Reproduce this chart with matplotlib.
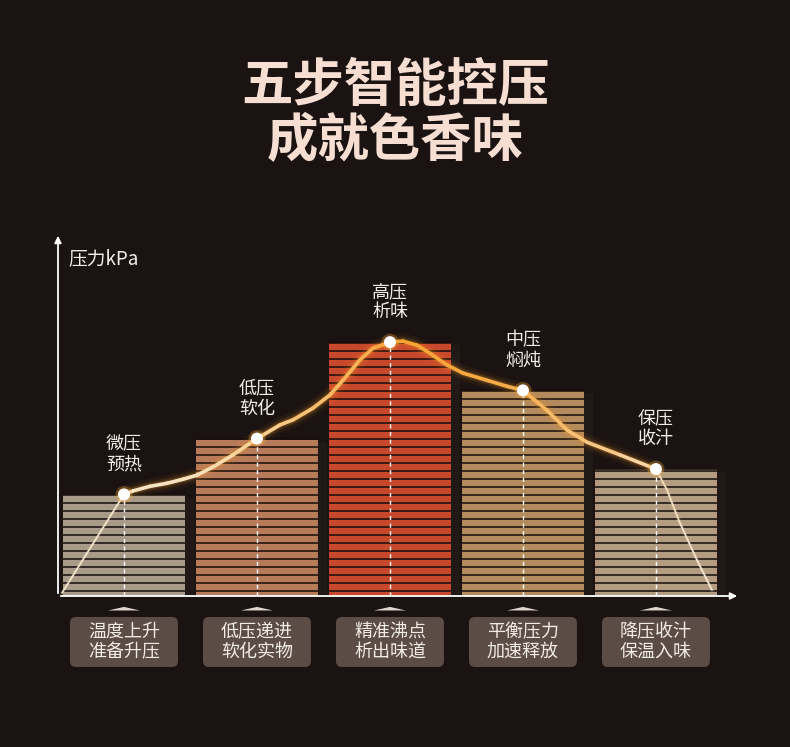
import numpy as np
import matplotlib
matplotlib.use("Agg")
import matplotlib.pyplot as plt
from matplotlib.collections import LineCollection
from matplotlib.colors import LinearSegmentedColormap
from matplotlib.patches import FancyBboxPatch, Rectangle, Polygon

plt.rcParams['font.family'] = ['Noto Sans CJK SC', 'DejaVu Sans']

''' [ DATA ] '''

steps = [0, 1, 2, 3, 4]
pressure = [20, 31, 50, 40.5, 25]
stageNames = ["微压\n预热", "低压\n软化", "高压\n析味", "中压\n焖炖", "保压\n收汁"]
stageNotes = ["温度上升\n准备升压", "低压递进\n软化实物", "精准沸点\n析出味道",
              "平衡压力\n加速释放", "降压收汁\n保温入味"]
barColors = ["#a89a88", "#b87b5a", "#c8482b", "#b38b5c", "#b39c82"]

# pressure curve (x in step units)
curveX = [-0.466, 0.0, 0.068, 0.195, 0.323, 0.444, 0.549, 0.669, 0.820, 1.0,
          1.173, 1.271, 1.421, 1.549, 1.647, 1.774, 1.872, 2.0, 2.098, 2.203,
          2.301, 2.429, 2.549, 2.729, 2.880, 3.0, 3.180, 3.331, 3.481, 3.729,
          4.0, 4.083, 4.180, 4.308, 4.421]
curveY = [0.6, 20, 20.7, 21.6, 22.2, 23.0, 23.8, 25.4, 27.8, 31,
          33.7, 34.7, 37.0, 39.6, 42.5, 46.5, 48.8, 50, 50.2, 49.4,
          47.8, 45.5, 43.9, 42.5, 41.3, 40.5, 36.6, 32.7, 30.3, 27.8,
          25, 20.9, 14.4, 7.1, 1.2]

title1 = "五步智能控压"
title2 = "成就色香味"
yLabel = "压力kPa"

''' [ STYLE ] '''

bg = "#1b1311"
xmin, xmax = -0.496, 4.632
ymax = 71.5
barWidth = 0.917
stripeStep = 1.575

fig = plt.figure(figsize=(7.9, 7.47), dpi=100)
fig.patch.set_facecolor(bg)
ax = fig.add_axes([58 / 790, 151 / 747, 682 / 790, 363 / 747])
ax.set_facecolor(bg)
ax.set_xlim(xmin, xmax)
ax.set_ylim(0, ymax)
ax.axis("off")

''' [ BARS ] '''

for i, h in enumerate(pressure):
    c = steps[i]
    # faint shadow on the right
    ax.add_patch(Rectangle((c - barWidth / 2 + 0.07, 0), barWidth, h - 0.6,
                           facecolor="#211916", edgecolor="none", zorder=1))
    ax.add_patch(Rectangle((c - barWidth / 2, 0), barWidth, h,
                           facecolor=barColors[i], edgecolor="none", zorder=2))
    ys = np.arange(1.04, h, stripeStep)
    ax.hlines(list(ys) + [h], c - barWidth / 2, c + barWidth / 2,
              colors="#140d0b", linewidth=1.1, zorder=3)
    ax.vlines(c, 0, h, colors="white", linewidth=1.0, linestyles=(0, (3, 2.5)), zorder=4)

''' [ CURVE ] '''

cx = np.array(curveX)
cy = np.array(curveY)
pts = np.column_stack([cx, cy])
segs = np.stack([pts[:-1], pts[1:]], axis=1)
mids = (pts[:-1, 0] + pts[1:, 0]) / 2

lineCmap = LinearSegmentedColormap.from_list("press", [
    (0.0, "#f7e8d2"), (0.2, "#f7e2c0"), (0.27, "#f9d7a0"), (0.45, "#f8b458"),
    (0.52, "#f6a232"), (0.68, "#f7ad48"), (0.85, "#f8cc8c"), (0.93, "#f7e0bc"),
    (1.0, "#f7ecdc")])
norm = plt.Normalize(-0.47, 4.42)
inner = (mids > 0) & (mids < 4)
widths = np.where(inner, 2.6, 1.2)

glowMask = (cx >= 0) & (cx <= 4)
for lw, a in [(11, 0.06), (7, 0.10), (4.5, 0.18)]:
    ax.plot(cx[glowMask], cy[glowMask], color="#f59a2a", lw=lw, alpha=a,
            solid_capstyle="round", solid_joinstyle="round", zorder=5)
ax.plot(cx[:2], cy[:2], color="#f7e0c0", lw=3, alpha=0.12, zorder=5)
ax.plot(cx[-5:], cy[-5:], color="#f7e0c0", lw=3, alpha=0.12, zorder=5)
core = LineCollection(segs, cmap=lineCmap, norm=norm, linewidths=widths,
                      capstyle="round", joinstyle="round", zorder=6)
core.set_array(mids)
ax.add_collection(core)

ax.scatter(steps, pressure, s=150, color="#f7a838", alpha=0.3, edgecolors="none", zorder=7)
ax.scatter(steps, pressure, s=75, color="white", edgecolors="none", zorder=8)

for i, h in enumerate(pressure):
    ax.annotate(stageNames[i], (steps[i], h), xytext=(0, 15), textcoords="offset points",
                ha="center", va="bottom", fontsize=13, color="#f2ece6",
                linespacing=1.15, zorder=9)

''' [ AXES ] '''

ax.annotate("", xy=(xmin, ymax), xytext=(xmin, 0),
            arrowprops=dict(arrowstyle="-|>", color="white", lw=1.3, mutation_scale=10),
            annotation_clip=False, zorder=10)
ax.annotate("", xy=(xmax, 0), xytext=(xmin, 0),
            arrowprops=dict(arrowstyle="-|>", color="white", lw=1.3, mutation_scale=10),
            annotation_clip=False, zorder=10)
ax.text(-0.42, 66.5, yLabel, ha="left", va="center", fontsize=13.5, color="#f2ece6")

''' [ NOTES ] '''

aspect = (682 / (xmax - xmin)) / (363 / ymax)
for i, note in enumerate(stageNotes):
    c = steps[i]
    ax.add_patch(Polygon([[c - 0.12, -2.85], [c, -2.15], [c + 0.12, -2.85]], closed=True,
                         facecolor="#f4ece4", edgecolor="none", alpha=0.9, clip_on=False))
    ax.add_patch(FancyBboxPatch((c - 0.406, -13.98), 0.812, 9.85,
                                boxstyle="round,pad=0,rounding_size=0.045",
                                mutation_aspect=aspect, facecolor="#5b4d45",
                                edgecolor="none", clip_on=False))
    ax.text(c, -9.06, note, ha="center", va="center", fontsize=13, color="#f2ece6",
            linespacing=1.15)

''' [ TITLE ] '''

fig.text(0.5, 1 - 85 / 747, title1, ha="center", va="center", fontsize=37,
         fontweight="bold", color="#f6dfd2")
fig.text(0.5, 1 - 140 / 747, title2, ha="center", va="center", fontsize=37,
         fontweight="bold", color="#f6dfd2")

plt.savefig("out.png", dpi=100, facecolor=bg)
